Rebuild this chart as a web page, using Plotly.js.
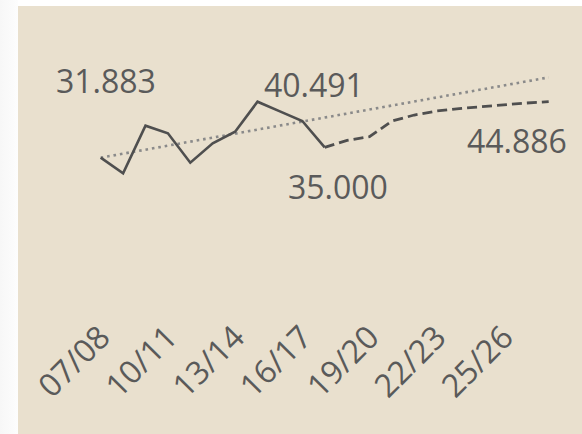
<!DOCTYPE html>
<html>
<head>
<meta charset="utf-8">
<script src="https://cdn.plot.ly/plotly-3.0.1.min.js"></script>
<style>
  html, body { margin: 0; padding: 0; width: 582px; height: 434px; overflow: hidden;
    background: linear-gradient(to right, #f7f7f7 0px, #fdfdfd 18px, #ffffff 18px); }
  #chart { position: absolute; left: 18px; top: 6px; width: 564px; height: 428px; }
</style>
</head>
<body>
<div id="chart"></div>
<script>
// School years (categories)
const years = ["07/08","08/09","09/10","10/11","11/12","12/13","13/14","14/15","15/16","16/17",
               "17/18","18/19","19/20","20/21","21/22","22/23","23/24","24/25","25/26","26/27","27/28"];
// Actual values (thousands)
const actualYears = ["07/08","08/09","09/10","10/11","11/12","12/13","13/14","14/15","15/16","16/17","17/18"];
const actualValues = [33.76, 31.883, 37.61, 36.69, 33.16, 35.49, 36.88, 40.491, 39.33, 38.17, 35.0];
// Forecast values (thousands)
const forecastYears = ["17/18","18/19","19/20","20/21","21/22","22/23","23/24","24/25","25/26","26/27","27/28"];
const forecastValues = [35.0, 35.84, 36.28, 38.17, 38.89, 39.37, 39.67, 39.91, 40.15, 40.33, 40.49];
// Trend values (thousands)
const trendValues = [33.76, 34.24, 34.73, 35.21, 35.69, 36.17, 36.66, 37.14, 37.62, 38.10, 38.59,
                     39.07, 39.55, 40.03, 40.52, 41.00, 41.48, 41.96, 42.45, 42.93, 43.41];
// Tick labels
const tickLabels = ["07/08","10/11","13/14","16/17","19/20","22/23","25/26"];
// Data labels
const labelTexts = ["31.883","40.491","35.000","44.886"];

const ink = "#4f4f4f";
const textColor = "#5a5a5a";
const fontFam = "'Open Sans', 'Noto Sans', sans-serif";

const traces = [
  { x: years, y: trendValues, type: "scatter", mode: "lines",
    line: { color: "#8a8a8a", width: 2.6, dash: "2.6px,3.9px" }, hoverinfo: "skip" },
  { x: forecastYears, y: forecastValues, type: "scatter", mode: "lines",
    line: { color: ink, width: 2.8, dash: "10px,5px" }, hoverinfo: "skip" },
  { x: actualYears, y: actualValues, type: "scatter", mode: "lines",
    line: { color: ink, width: 2.6 }, hoverinfo: "skip" }
];

const labelPos = [
  { x: 0.0934, y: 0.849 },
  { x: 0.4975, y: 0.834 },
  { x: 0.5447, y: 0.4485 },
  { x: 0.8924, y: 0.624 }
];

const annotations = labelTexts.map((t, i) => ({
  text: t, xref: "paper", yref: "paper", x: labelPos[i].x, y: labelPos[i].y,
  xanchor: "center", yanchor: "middle", showarrow: false,
  font: { family: fontFam, size: 32, color: textColor }
}));

const layout = {
  width: 564, height: 428,
  margin: { l: 40, r: 10, t: 34, b: 128, pad: 0 },
  paper_bgcolor: "#e9e0ce",
  plot_bgcolor: "#e9e0ce",
  showlegend: false,
  xaxis: {
    type: "category", categoryorder: "array", categoryarray: years,
    range: [-1.906, 21.04],
    tickmode: "array", tickvals: tickLabels, ticktext: tickLabels,
    tickangle: -45, showgrid: false, zeroline: false, showline: false, ticks: "",
    ticklabelstandoff: 5,
    tickfont: { family: fontFam, size: 32, color: textColor }
  },
  yaxis: {
    range: [15.930, 47.908], visible: false, showgrid: false, zeroline: false
  },
  annotations: annotations
};

Plotly.newPlot("chart", traces, layout, { displayModeBar: false, staticPlot: true });
</script>
</body>
</html>
